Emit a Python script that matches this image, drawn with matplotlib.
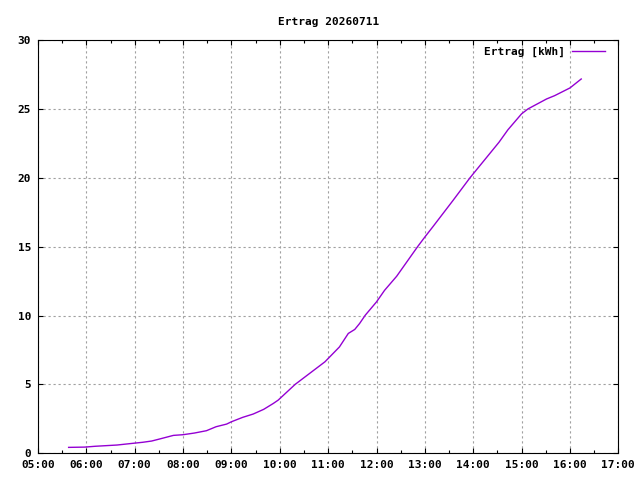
import matplotlib
matplotlib.use("Agg")
import matplotlib.pyplot as plt
from matplotlib.ticker import MultipleLocator

# Ertrag over the day
times = ["05:38", "05:58", "06:11", "06:38", "06:57", "07:10", "07:21", "07:31",
         "07:48", "08:00", "08:14", "08:29", "08:41", "08:54", "09:00", "09:14",
         "09:27", "09:40", "09:52", "09:58", "10:19", "10:56", "11:00",
         "11:14", "11:25", "11:33", "11:39", "11:46", "12:00", "12:10", "12:25",
         "12:51", "13:00", "13:10", "13:35", "13:56", "14:32", "14:43", "15:00",
         "15:08", "15:31", "15:41", "16:00", "16:14"]
ertrag = [0.43, 0.45, 0.51, 0.60, 0.72, 0.80, 0.89, 1.04,
          1.30, 1.35, 1.47, 1.64, 1.93, 2.12, 2.29, 2.61,
          2.85, 3.19, 3.62, 3.86, 5.00, 6.64, 6.88,
          7.72, 8.70, 8.99, 9.42, 10.02, 10.99, 11.83, 12.85,
          15.00, 15.70, 16.45, 18.36, 20.00, 22.58, 23.48, 24.64,
          25.00, 25.72, 25.96, 26.52, 27.17]
hour_labels = ["05:00", "06:00", "07:00", "08:00", "09:00", "10:00", "11:00",
               "12:00", "13:00", "14:00", "15:00", "16:00", "17:00"]

def to_hours(s):
    h, m = s.split(":")
    return int(h) + int(m) / 60.0

x = [to_hours(t) for t in times]
hour_ticks = [to_hours(t) for t in hour_labels]

plt.rcParams["font.family"] = "DejaVu Sans Mono"
plt.rcParams["font.weight"] = "bold"
plt.rcParams["font.size"] = 8

fig = plt.figure(figsize=(6.4, 4.8), dpi=100)
ax = fig.add_axes([38/640, 1 - 453.3/480, (618.3 - 38)/640, (453.3 - 40)/480])

ax.plot(x, ertrag, color="#9400d3", lw=1.0, label="Ertrag [kWh]")

ax.set_xlim(5, 17)
ax.set_ylim(0, 30)
ax.set_xticks(hour_ticks)
ax.set_xticklabels(hour_labels)
ax.xaxis.set_minor_locator(MultipleLocator(0.5))
ax.yaxis.set_major_locator(MultipleLocator(5))

ax.tick_params(which="both", direction="in", top=True, right=True, width=0.8)
ax.tick_params(which="major", length=3.5, pad=5)
ax.tick_params(which="minor", length=2.5)
for sp in ax.spines.values():
    sp.set_linewidth(0.8)

ax.grid(True, which="major", color="#a0a0a0", linestyle=(0, (2, 2.5)), lw=0.8)

ax.set_title("Ertrag 20260711", fontsize=8, fontweight="bold", pad=11)

ax.legend(loc="upper right", bbox_to_anchor=(0.985, 0.995), frameon=False,
          markerfirst=False, handlelength=3.0, handletextpad=0.6,
          borderaxespad=0, prop={"weight": "bold", "size": 8})

fig.savefig("out.png", dpi=100)
